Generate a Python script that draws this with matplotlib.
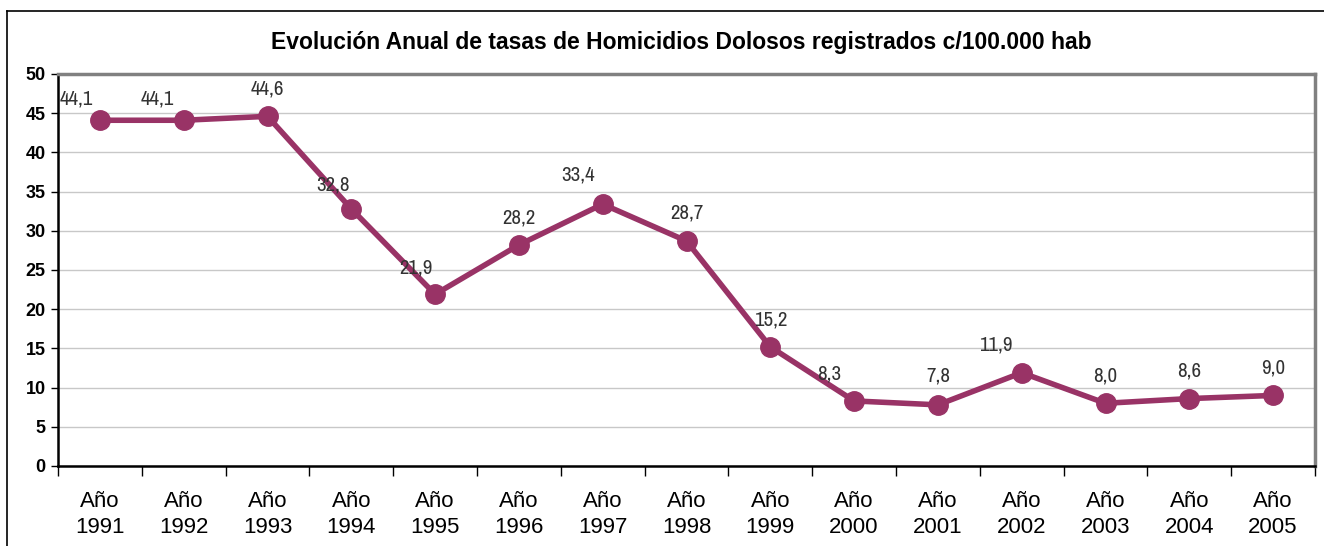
import matplotlib
matplotlib.use("Agg")
import matplotlib.pyplot as plt
from matplotlib.lines import Line2D

years = [1991, 1992, 1993, 1994, 1995, 1996, 1997, 1998, 1999, 2000,
         2001, 2002, 2003, 2004, 2005]
rates = [44.1, 44.1, 44.6, 32.8, 21.9, 28.2, 33.4, 28.7, 15.2, 8.3,
         7.8, 11.9, 8.0, 8.6, 9.0]
tick_labels = ["Año\n{}".format(y) for y in years]

# nudges (points) for each value label
label_dx = [-17, -19, 0, -13, -14, 0, -18, 0, 0, -18, 0, -19, 0, 0, 0]
label_dy = [15.5, 15, 20, 17.5, 19, 19.5, 21, 20, 19, 19.5, 20.5, 20, 20, 20, 20]

plum = "#993366"

plt.rcParams["font.family"] = ["Liberation Sans", "DejaVu Sans"]

fig = plt.figure(figsize=(13.24, 5.46), dpi=100)
W, H = 1324, 546

# outer chart frame (only left and top edges fall inside the image)
fig.add_artist(Line2D([7 / W, 7 / W], [0, 1 - 11 / H], transform=fig.transFigure,
                      color="black", lw=1.2))
fig.add_artist(Line2D([7 / W, 1], [1 - 11 / H, 1 - 11 / H], transform=fig.transFigure,
                      color="black", lw=1.2))

fig.text(681 / W, 1 - 42 / H,
         "Evolución Anual de tasas de Homicidios Dolosos registrados c/100.000 hab",
         ha="center", va="center", fontsize=16.5, fontweight="bold")

ax = fig.add_axes([58 / W, 1 - 466 / H, (1315 - 58) / W, (466 - 74) / H])

x = list(range(len(years)))
ax.plot(x, rates, color=plum, lw=4, marker="o", markersize=14,
        markerfacecolor=plum, markeredgecolor=plum, zorder=3, clip_on=False)

for xi, v, dx, dy in zip(x, rates, label_dx, label_dy):
    ax.annotate("{:.1f}".format(v).replace(".", ","), (xi, v),
                xytext=(dx, dy), textcoords="offset points",
                ha="center", va="center", fontsize=15, color="#333333",
                family=["Archivo Narrow", "DejaVu Sans"])

ax.set_xlim(-0.5, len(years) - 0.5)
ax.set_ylim(0, 50)
ax.set_yticks(range(0, 51, 5))
ax.tick_params(axis="y", direction="out", length=5, width=1, pad=4,
               labelsize=13)
for lbl in ax.get_yticklabels():
    lbl.set_fontweight("bold")

ax.set_xticks(x)
ax.set_xticklabels(tick_labels, fontsize=16, linespacing=1.3)
ax.tick_params(axis="x", which="major", length=0, pad=18)
ax.set_xticks([i - 0.5 for i in range(len(years) + 1)], minor=True)
ax.tick_params(axis="x", which="minor", direction="out", length=7, width=1)

ax.grid(axis="y", color="#c8c8c8", lw=1)
ax.set_axisbelow(True)

for side in ("top", "right"):
    ax.spines[side].set_color("#808080")
    ax.spines[side].set_linewidth(2.5)
for side in ("left", "bottom"):
    ax.spines[side].set_color("black")
    ax.spines[side].set_linewidth(1.8)

fig.savefig("out.png", dpi=100)
